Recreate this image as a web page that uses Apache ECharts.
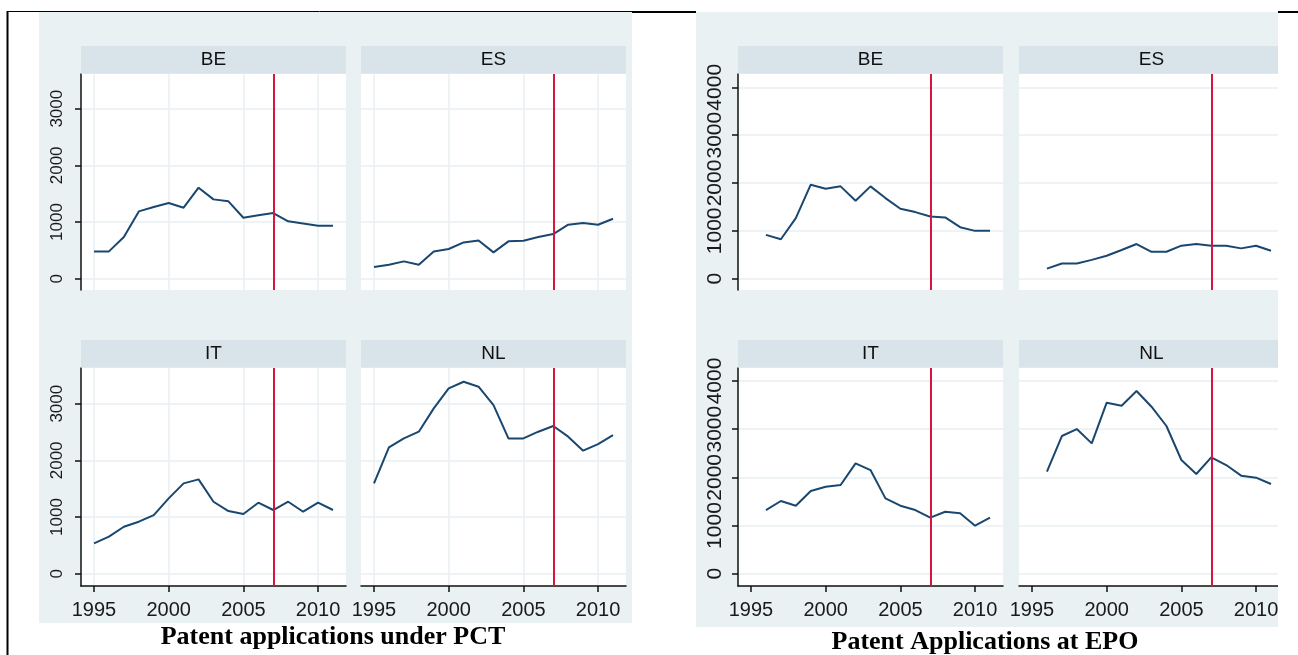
<!DOCTYPE html>
<html><head><meta charset="utf-8">
<script src="https://cdn.jsdelivr.net/npm/echarts@6/dist/echarts.min.js"></script>
<style>html,body{margin:0;padding:0;background:#fff;} #c{width:1298px;height:655px;}</style>
</head><body><div id="c"></div>
<script>
// ---------- data ----------
const countries = ['BE', 'ES', 'IT', 'NL'];
const yearsPCT = [1995,1996,1997,1998,1999,2000,2001,2002,2003,2004,2005,2006,2007,2008,2009,2010,2011];
const yearsEPO = [1996,1997,1998,1999,2000,2001,2002,2003,2004,2005,2006,2007,2008,2009,2010,2011];
const pctBE = [482,482,735,1188,1265,1335,1253,1606,1400,1365,1076,1118,1159,1012,976,935,935];
const pctES = [206,247,306,247,482,524,641,676,465,659,671,735,788,953,982,953,1059];
const pctIT = [535,653,829,918,1035,1329,1594,1665,1270,1106,1053,1253,1124,1270,1094,1253,1124];
const pctNL = [1594,2229,2388,2506,2918,3271,3388,3300,2976,2388,2388,2506,2606,2418,2171,2288,2447];
const epoBE = [916,825,1266,1965,1881,1930,1629,1930,1685,1462,1392,1300,1280,1077,1000,1000];
const epoES = [211,317,317,394,479,599,725,563,563,690,725,690,690,634,690,585];
const epoIT = [1322,1509,1412,1716,1806,1841,2291,2152,1564,1412,1322,1163,1287,1253,997,1163];
const epoNL = [2118,2858,3003,2706,3550,3488,3792,3467,3066,2360,2069,2415,2256,2035,1993,1862];
const xTicks = [1995, 2000, 2005, 2010];
const pctYTicks = [0, 1000, 2000, 3000];
const epoYTicks = [0, 1000, 2000, 3000, 4000];
const policyYear = 2007;
const panelTitles = ['Patent applications under PCT', 'Patent Applications at EPO'];

// ---------- layout ----------
const panels = [
  { years: yearsPCT, series: [pctBE, pctES, pctIT, pctNL], ticks: pctYTicks, title: panelTitles[0],
    cols: [81, 361], yr: [[-199, 3612], [-217, 3630]], vgrid: true, yFont: 17, yMargin: 15,
    bg: [39, 12, 593, 611], titlePos: [333, 637] },
  { years: yearsEPO, series: [epoBE, epoES, epoIT, epoNL], ticks: epoYTicks, title: panelTitles[1],
    cols: [738, 1019], yr: [[-236, 4278], [-255, 4270]], vgrid: false, yFont: 21, yMargin: 12,
    bg: [696, 12, 582, 615], titlePos: [985, 642] }
];
const rows = [{ top: 74, h: 216, hdr: 46 }, { top: 368, h: 218, hdr: 340 }];
const PW = 265;
const navy = '#1A476F', red = '#D6163F', gridCol = '#E8F0F2', axisCol = '#111', txtCol = '#1a1a1a';
const plain = v => String(v);

const grid = [], xAxis = [], yAxis = [], series = [];
const graphics = [];

panels.forEach((p, pi) => {
  graphics.push({ type: 'rect', z: -10, shape: { x: p.bg[0], y: p.bg[1], width: p.bg[2], height: p.bg[3] },
    style: { fill: '#E9F1F3' } });
  graphics.push({ type: 'text', z: 5, x: p.titlePos[0], y: p.titlePos[1],
    style: { text: p.title, textAlign: 'center', textVerticalAlign: 'middle',
      font: 'bold 26px "Liberation Serif", "Times New Roman", serif', fill: '#000' } });
  countries.forEach((cn, k) => {
    const r = Math.floor(k / 2), c = k % 2;
    const gi = grid.length;
    const left = p.cols[c], row = rows[r];
    grid.push({ left: left, top: row.top, width: PW, height: row.h, show: true,
      backgroundColor: '#fff', borderWidth: 0 });
    graphics.push({ type: 'rect', z: 1, shape: { x: left, y: row.hdr, width: PW, height: 27.5 },
      style: { fill: '#D8E4EA' } });
    graphics.push({ type: 'text', z: 2, x: left + PW / 2, y: row.hdr + 14,
      style: { text: cn, textAlign: 'center', textVerticalAlign: 'middle',
        font: '19px "Liberation Sans", Arial, sans-serif', fill: '#111' } });
    const showX = r === 1, showY = c === 0;
    xAxis.push({ gridIndex: gi, type: 'value', min: 1994.13, max: 2011.87,
      axisLine: { show: showX, onZero: false, lineStyle: { color: axisCol, width: 1.5 } },
      axisTick: { show: showX, length: 6, customValues: xTicks, lineStyle: { color: axisCol, width: 1.5 } },
      axisLabel: { show: showX, customValues: xTicks, formatter: plain, hideOverlap: false, margin: 14, fontSize: 20,
        fontFamily: '"Liberation Sans", Arial, sans-serif', color: txtCol },
      splitLine: { show: p.vgrid, lineStyle: { color: gridCol, width: 1.5 } } });
    yAxis.push({ gridIndex: gi, type: 'value', min: p.yr[r][0], max: p.yr[r][1],
      axisLine: { show: showY, onZero: false, lineStyle: { color: axisCol, width: 1.5 } },
      axisTick: { show: showY, length: 6, customValues: p.ticks, lineStyle: { color: axisCol, width: 1.5 } },
      axisLabel: { show: showY, customValues: p.ticks, formatter: plain, hideOverlap: false, rotate: 90,
        margin: p.yMargin, fontSize: p.yFont,
        fontFamily: '"Liberation Sans", Arial, sans-serif', color: txtCol },
      splitLine: { show: true, lineStyle: { color: gridCol, width: 1.5 } } });
    series.push({ type: 'line', xAxisIndex: gi, yAxisIndex: gi, symbol: 'none',
      data: p.years.map((yy, i) => [yy, p.series[k][i]]),
      lineStyle: { color: navy, width: 2 },
      markLine: { silent: true, symbol: 'none', label: { show: false },
        lineStyle: { color: red, width: 2, type: 'solid' }, data: [{ xAxis: policyYear }] } });
  });
});

// page frame
graphics.push({ type: 'rect', z: 50, shape: { x: 1278, y: 13, width: 20, height: 642 }, style: { fill: '#fff' } });
graphics.push({ type: 'line', z: 60, shape: { x1: 7, y1: 11.5, x2: 632, y2: 11.5 }, style: { stroke: '#000', lineWidth: 1 } });
graphics.push({ type: 'line', z: 60, shape: { x1: 632, y1: 12, x2: 696, y2: 12 }, style: { stroke: '#000', lineWidth: 2 } });
graphics.push({ type: 'line', z: 60, shape: { x1: 1278, y1: 12, x2: 1298, y2: 12 }, style: { stroke: '#000', lineWidth: 2 } });
graphics.push({ type: 'line', z: 60, shape: { x1: 7.5, y1: 11, x2: 7.5, y2: 655 }, style: { stroke: '#000', lineWidth: 2 } });

const chart = echarts.init(document.getElementById('c'), null, { renderer: 'canvas' });
chart.setOption({
  animation: false,
  backgroundColor: '#fff',
  grid, xAxis, yAxis, series,
  graphic: { elements: graphics }
});
</script></body></html>
